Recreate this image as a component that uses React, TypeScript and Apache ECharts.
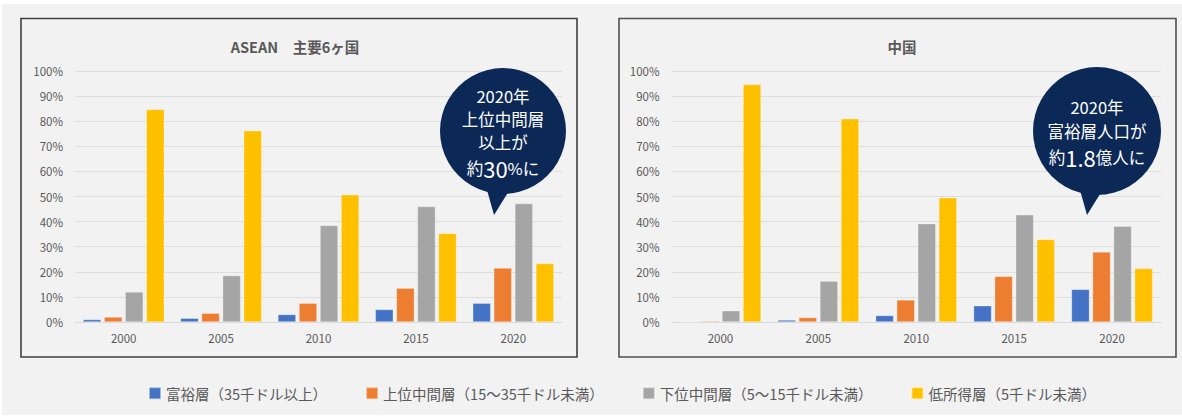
import React, { useEffect, useRef } from "react";
import * as echarts from "echarts";

const years = ["2000", "2005", "2010", "2015", "2020"];
const seriesNames = [
  "富裕層（35千ドル以上）",
  "上位中間層（15～35千ドル未満）",
  "下位中間層（5～15千ドル未満）",
  "低所得層（5千ドル未満）",
];
const colors = ["#4472c4", "#ed7d31", "#a5a5a5", "#ffc000"];

const aseanWealthy = [1.0, 1.5, 3.0, 5.0, 7.5];
const aseanUpperMiddle = [2.0, 3.5, 7.5, 13.5, 21.5];
const aseanLowerMiddle = [12.0, 18.5, 38.5, 46.0, 47.2];
const aseanLow = [84.7, 76.2, 50.7, 35.3, 23.3];

const chinaWealthy = [0, 0.8, 2.6, 6.5, 13.0];
const chinaUpperMiddle = [0.4, 1.8, 8.8, 18.2, 27.9];
const chinaLowerMiddle = [4.5, 16.3, 39.2, 42.7, 38.2];
const chinaLow = [94.6, 81.0, 49.5, 32.9, 21.3];

const yTicks = { min: 0, max: 100, interval: 10 };

const titles = ["ASEAN\u3000主要6ヶ国", "中国"];

const FONT = "'Noto Sans CJK JP', 'Noto Sans', sans-serif";

export default function App() {
  const ref = useRef<HTMLDivElement>(null);

  useEffect(() => {
    if (!ref.current) return;
    const chart = echarts.init(ref.current, null, { renderer: "svg" });

    const aseanData = [aseanWealthy, aseanUpperMiddle, aseanLowerMiddle, aseanLow];
    const chinaData = [chinaWealthy, chinaUpperMiddle, chinaLowerMiddle, chinaLow];

    const grids = [
      { left: 75, right: 1182 - 562, top: 71, bottom: 417 - 322 },
      { left: 671.5, right: 1182 - 1161, top: 71, bottom: 417 - 322 },
    ];

    const xAxes = grids.map((_, i) => ({
      type: "category",
      gridIndex: i,
      data: years,
      axisTick: { show: false },
      axisLine: { lineStyle: { color: "#d9d9d9", width: 1 } },
      axisLabel: { color: "#595959", fontSize: 11.5, margin: 10, fontFamily: FONT },
    }));
    const yAxes = grids.map((_, i) => ({
      type: "value",
      gridIndex: i,
      min: yTicks.min,
      max: yTicks.max,
      interval: yTicks.interval,
      axisLine: { show: false },
      axisTick: { show: false },
      splitLine: { lineStyle: { color: "#dedede", width: 1 } },
      axisLabel: {
        color: "#595959",
        fontSize: 11.5,
        margin: 12,
        fontFamily: FONT,
        formatter: "{value}%",
      },
    }));

    const series: any[] = [];
    [aseanData, chinaData].forEach((dataset, gi) => {
      dataset.forEach((vals, si) => {
        series.push({
          type: "bar",
          name: seriesNames[si],
          xAxisIndex: gi,
          yAxisIndex: gi,
          data: vals,
          barWidth: 18,
          barGap: "17%",
          itemStyle: { color: colors[si], borderColor: "rgba(255,255,255,0.5)", borderWidth: 0.6 },
        });
      });
    });

    const bubble = (cx: number, cy: number, r: number, tip: number[], base: number[][]) => [
      {
        type: "polygon",
        shape: { points: [base[0], base[1], tip] },
        style: { fill: "#0b2857" },
        z: 10,
      },
      {
        type: "circle",
        shape: { cx, cy, r },
        style: { fill: "#0b2857" },
        z: 10,
      },
    ];

    const txt = (x: number, y: number, text: string, size = 16.5, rich?: any) => ({
      type: "text",
      x,
      y,
      z: 11,
      style: {
        text,
        fill: "#ffffff",
        fontSize: size,
        fontFamily: FONT,
        align: "center",
        verticalAlign: "middle",
        lineHeight: 20,
        rich,
      },
    });

    const richBig = {
      s: { fill: "#ffffff", fontSize: 16.5, fontFamily: FONT, color: "#ffffff", lineHeight: 20 },
      b: { fill: "#ffffff", fontSize: 22, fontFamily: FONT, color: "#ffffff", lineHeight: 20 },
    };

    chart.setOption({
      animation: false,
      backgroundColor: "#ffffff",
      textStyle: { fontFamily: FONT },
      title: [
        {
          text: titles[0],
          left: 290,
          top: 34,
          textAlign: "center",
          textStyle: { color: "#595959", fontSize: 14.5, fontWeight: "bold", fontFamily: FONT },
        },
        {
          text: titles[1],
          left: 897,
          top: 34,
          textAlign: "center",
          textStyle: { color: "#595959", fontSize: 14.5, fontWeight: "bold", fontFamily: FONT },
        },
      ],
      legend: {
        left: 143,
        top: 381,
        itemWidth: 12,
        itemHeight: 12,
        itemGap: 38,
        icon: "rect",
        textStyle: { color: "#595959", fontSize: 14.5, fontFamily: FONT },
        data: seriesNames,
      },
      grid: grids,
      xAxis: xAxes,
      yAxis: yAxes,
      series,
      graphic: [
        {
          type: "rect",
          shape: { x: 2, y: 4, width: 1180, height: 411 },
          style: { fill: "#f2f2f2" },
          z: -10,
          silent: true,
        },
        {
          type: "rect",
          shape: { x: 21, y: 18.5, width: 556, height: 338.5 },
          style: { fill: "none", stroke: "#404040", lineWidth: 1.6 },
          z: 0,
        },
        {
          type: "rect",
          shape: { x: 619, y: 18.5, width: 557, height: 338.5 },
          style: { fill: "none", stroke: "#505050", lineWidth: 1.6 },
          z: 0,
        },
        ...bubble(503, 131, 63, [494, 215], [[485, 183], [512, 186]]),
        txt(503, 96, "2020年"),
        txt(503, 119, "上位中間層"),
        txt(503, 142, "以上が"),
        txt(503, 168, "{s|約}{b|30}{s|%に}", 16.5, richBig),
        ...bubble(1097, 131, 64, [1087, 215], [[1078, 183], [1105, 186]]),
        txt(1097, 107, "2020年"),
        txt(1097, 131, "富裕層人口が"),
        txt(1097, 157, "{s|約}{b|1.8}{s|億人に}", 16.5, richBig),
      ],
    });

    return () => chart.dispose();
  }, []);

  return (
    <div
      ref={ref}
      style={{ position: "fixed", left: 0, top: 0, width: 1182, height: 417 }}
    />
  );
}
